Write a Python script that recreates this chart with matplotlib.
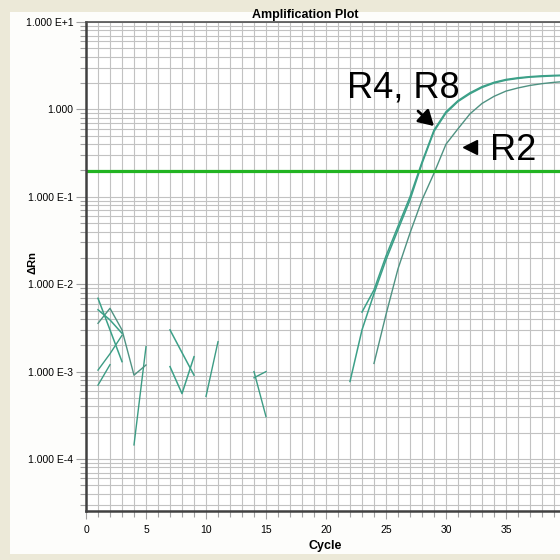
import matplotlib
matplotlib.use("Agg")
import matplotlib.pyplot as plt
import numpy as np
from matplotlib.patches import Rectangle
from matplotlib.ticker import FixedLocator, LogLocator, MultipleLocator, NullFormatter

nan = np.nan

# cycle numbers and delta Rn per well (nan = not plotted, value <= 0)
cycles = np.arange(1, 41)

r4 = [6.9e-3, 3.0e-3, 1.3e-3, nan, nan, nan, 3.0e-3, 1.65e-3, 9.1e-4, nan,
      nan, nan, nan, nan, nan, nan, nan, nan, nan, nan,
      nan, 7.7e-4, 3.0e-3, 7.8e-3, 1.9e-2, 4.2e-2, 9.2e-2, 0.24, 0.56, 0.91,
      1.23, 1.51, 1.78, 2.0, 2.16, 2.26, 2.34, 2.38, 2.42, 2.44]

r8 = [5.1e-3, 3.9e-3, 2.74e-3, nan, nan, nan, 1.14e-3, 5.6e-4, 1.48e-3, nan,
      nan, nan, nan, nan, nan, nan, nan, nan, nan, nan,
      nan, nan, 4.8e-3, 8.6e-3, 2.1e-2, 4.6e-2, 0.10, 0.25, 0.58, 0.94,
      1.26, 1.55, 1.82, 2.04, 2.2, 2.3, 2.37, 2.42, 2.45, 2.47]

r2 = [3.57e-3, 5.3e-3, 3.0e-3, 9.1e-4, 1.19e-3, nan, nan, nan, nan, nan,
      nan, nan, nan, nan, nan, nan, nan, nan, nan, nan,
      nan, nan, nan, 1.24e-3, 4.5e-3, 1.5e-2, 3.85e-2, 9.2e-2, 0.186, 0.40,
      0.60, 0.89, 1.17, 1.41, 1.62, 1.76, 1.88, 1.97, 2.04, 2.09]

ntc1 = [1.04e-3, 1.6e-3, 2.6e-3, nan, nan, nan, nan, nan, nan, 5.2e-4,
        2.2e-3, nan, nan, 8.5e-4, 1.0e-3, nan, nan, nan, nan, nan] + [nan] * 20

ntc2 = [7.0e-4, 1.2e-3, nan, 1.45e-4, 1.93e-3, nan, nan, nan, nan, nan,
        nan, nan, nan, 1.0e-3, 3.05e-4, nan, nan, nan, nan, nan] + [nan] * 20

threshold = 0.195

y_ticks = [1e1, 1e0, 1e-1, 1e-2, 1e-3, 1e-4]
y_tick_labels = ["1.000 E+1", "1.000", "1.000 E-1", "1.000 E-2", "1.000 E-3", "1.000 E-4"]
x_ticks = [0, 5, 10, 15, 20, 25, 30, 35]

W = H = 560
FONT = "Liberation Sans"

fig = plt.figure(figsize=(5.6, 5.6), dpi=100, facecolor="#ECE9D8")
# white panel inside the window frame
fig.patches.append(Rectangle((10 / W, 6 / H), 1, (H - 12 - 6) / H,
                             transform=fig.transFigure, facecolor="#FDFDFB",
                             edgecolor="none", zorder=-5))

ax = fig.add_axes([86 / W, (H - 511) / H, 480 / W, 489 / H])
ax.set_facecolor("white")
ax.set_yscale("log")
ax.set_xlim(0, 40)
ax.set_ylim(10 ** -4.595, 10)

# grid: every cycle, every log sub-decade
ax.xaxis.set_major_locator(FixedLocator(x_ticks))
ax.xaxis.set_minor_locator(MultipleLocator(1))
ax.yaxis.set_major_locator(FixedLocator(y_ticks))
ax.yaxis.set_minor_locator(LogLocator(base=10, subs=np.arange(2, 10)))
ax.yaxis.set_minor_formatter(NullFormatter())
ax.set_yticklabels(y_tick_labels)
ax.grid(which="both", color="#C2C2C2", lw=0.8)
ax.set_axisbelow(True)

ax.tick_params(axis="both", which="major", colors="#A0A0A0", labelcolor="black",
               labelsize=7.5)
ax.tick_params(axis="y", which="major", length=7, width=0.8, pad=2)
ax.tick_params(axis="y", which="minor", length=4, width=0.8, colors="#A0A0A0")
ax.tick_params(axis="x", which="major", length=6, width=0.8, pad=4)
ax.tick_params(axis="x", which="minor", length=4, width=0.8, colors="#A0A0A0")
for lab in ax.get_xticklabels() + ax.get_yticklabels():
    lab.set_family(FONT)

for side in ["left", "bottom"]:
    ax.spines[side].set_color("#404040")
    ax.spines[side].set_linewidth(1.8)
ax.spines["top"].set_color("#505050")
ax.spines["top"].set_linewidth(1.2)
ax.spines["right"].set_visible(False)

# well curves
for s in [ntc1, ntc2]:
    ax.plot(cycles, s, color="#3C9C84", lw=1.0)
ax.plot(cycles, r2, color="#4F9282", lw=1.0)
ax.plot(cycles, r4, color="#3CA088", lw=1.1)
ax.plot(cycles, r8, color="#3CA088", lw=1.1)

# threshold
ax.axhline(threshold, color="#22B422", lw=2.3)

# annotations
ax.annotate("", xy=(29.0, 0.645), xytext=(-16, 15), textcoords="offset pixels",
            arrowprops=dict(arrowstyle="-|>,head_length=0.6,head_width=0.35",
                            color="black", lw=2, mutation_scale=15,
                            shrinkA=0, shrinkB=0))
ax.plot(32.0, 0.372, marker="<", ms=10, color="black", clip_on=False)
fig.text(347 / W, 1 - 98 / H, "R4, R8", fontsize=26, family=FONT,
         ha="left", va="baseline")
fig.text(490 / W, 1 - 160 / H, "R2", fontsize=26, family=FONT,
         ha="left", va="baseline")

# titles
fig.text(305 / W, 1 - 15 / H, "Amplification Plot", ha="center", va="center",
         fontsize=9, fontweight="bold", family=FONT)
fig.text(325 / W, 1 - 546 / H, "Cycle", ha="center", va="center",
         fontsize=9, fontweight="bold", family=FONT)
fig.text(33 / W, 1 - 263 / H, "ΔRn", ha="center", va="center", rotation=90,
         fontsize=8, fontweight="bold", family=[FONT, "DejaVu Sans"])

fig.savefig("out.png", dpi=100, facecolor=fig.get_facecolor())
